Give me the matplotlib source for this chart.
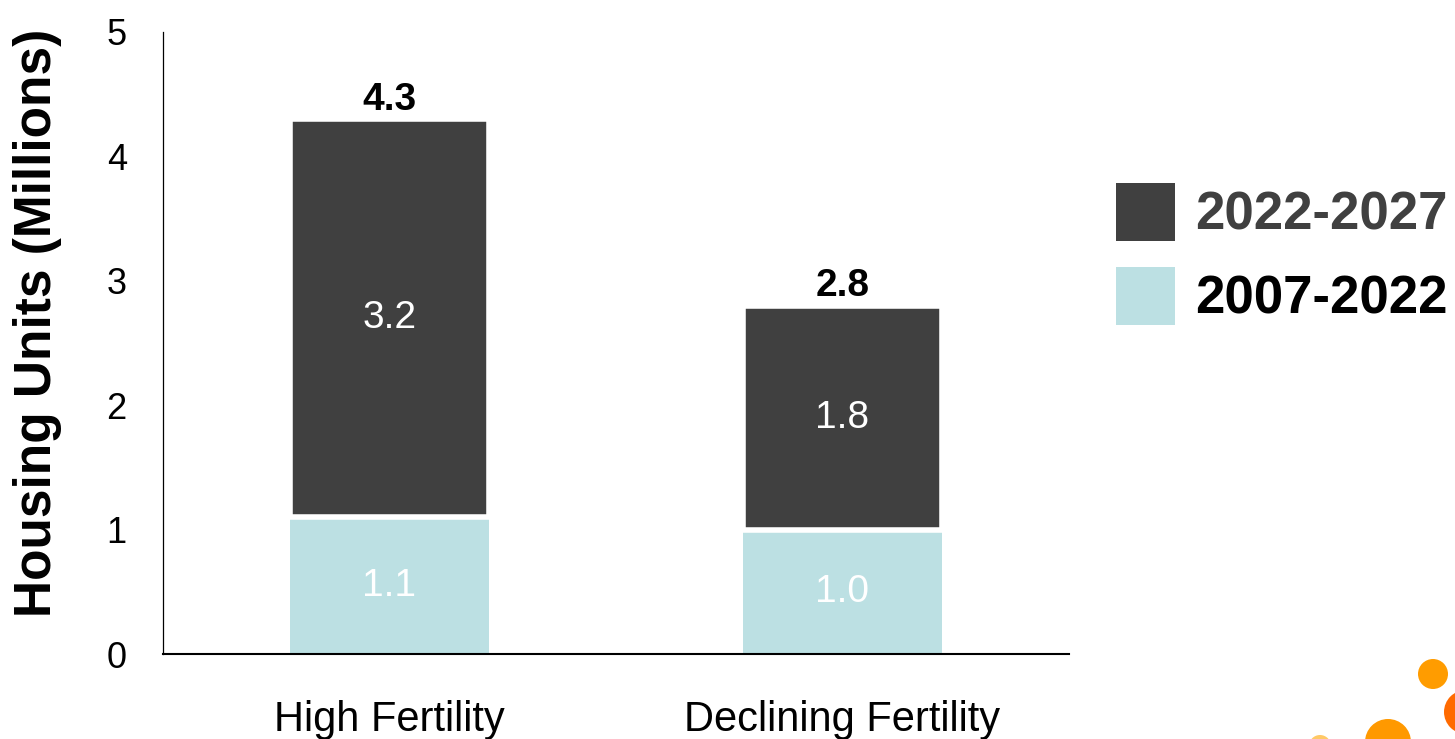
import matplotlib
matplotlib.use("Agg")
import matplotlib.pyplot as plt
from matplotlib.patches import Circle, Patch

plt.rcParams["font.family"] = ["Liberation Sans", "DejaVu Sans"]

# Data (millions of housing units)
scenarios = ["High Fertility", "Declining Fertility"]
period_2007_2022 = [1.1, 1.0]
period_2022_2027 = [3.2, 1.8]
totals = [4.3, 2.8]
series_labels = ["2022-2027", "2007-2022"]
y_ticks = [0, 1, 2, 3, 4, 5]

dark = "#404040"
light = "#bce0e3"

fig = plt.figure(figsize=(14.55, 7.39), dpi=100)
ax = fig.add_axes([0.112, 0.115, 0.6227, 0.8418])

x = list(range(len(scenarios)))
width = 0.44

b_light = ax.bar(x, period_2007_2022, width, color=light, edgecolor="none", zorder=2)
b_dark = ax.bar(x, period_2022_2027, width, bottom=period_2007_2022, color=dark,
                edgecolor="white", linewidth=4.0, zorder=3)

# segment labels
for xi, lo, hi in zip(x, period_2007_2022, period_2022_2027):
    ax.text(xi, lo / 2, f"{lo:.1f}", ha="center", va="center", color="white", fontsize=28, zorder=4)
    ax.text(xi, lo + hi / 2, f"{hi:.1f}", ha="center", va="center", color="white", fontsize=28, zorder=4)

# totals above the stacks
for xi, t in zip(x, totals):
    ax.text(xi, t + 0.01, f"{t:.1f}", ha="center", va="bottom", color="black",
            fontsize=28, fontweight="bold")

ax.set_xlim(-0.5, 1.5)
ax.set_ylim(0, 5)
ax.set_yticks(y_ticks)
ax.set_xticks(x)
ax.set_xticklabels(scenarios, fontsize=30)
ax.tick_params(axis="y", labelsize=26, length=0, pad=26)
ax.tick_params(axis="x", length=0, pad=33)
ax.set_ylabel("Housing Units (Millions)", fontsize=37, fontweight="bold", labelpad=32)
ax.yaxis.label.set_y(0.532)

for s in ["top", "right"]:
    ax.spines[s].set_visible(False)
ax.spines["left"].set_linewidth(0.9)
ax.spines["bottom"].set_linewidth(1.5)

handles = [Patch(facecolor=dark), Patch(facecolor=light)]
leg = ax.legend(handles, series_labels, loc="center left", bbox_to_anchor=(1.052, 0.643),
                frameon=False, prop={"size": 38, "weight": "bold"},
                handlelength=1.12, handleheight=1.32, handletextpad=0.38,
                labelspacing=0.5, borderaxespad=0, borderpad=0)
leg.get_texts()[0].set_color(dark)
leg.get_texts()[1].set_color("black")

# decorative dots in the lower-right corner
deco = fig.add_axes([0, 0, 1, 1], zorder=-1)
deco.set_xlim(0, 1455)
deco.set_ylim(739, 0)
deco.set_aspect("equal")
deco.axis("off")
for (cx, cy, r, c) in [(1433, 674, 15, "#ff9c00"), (1466, 712, 22, "#ff6a00"),
                       (1388, 742, 23, "#ff9900"), (1320, 746, 11, "#ffc966")]:
    deco.add_patch(Circle((cx, cy), r, color=c, lw=0))

fig.savefig("out.png", dpi=100)
